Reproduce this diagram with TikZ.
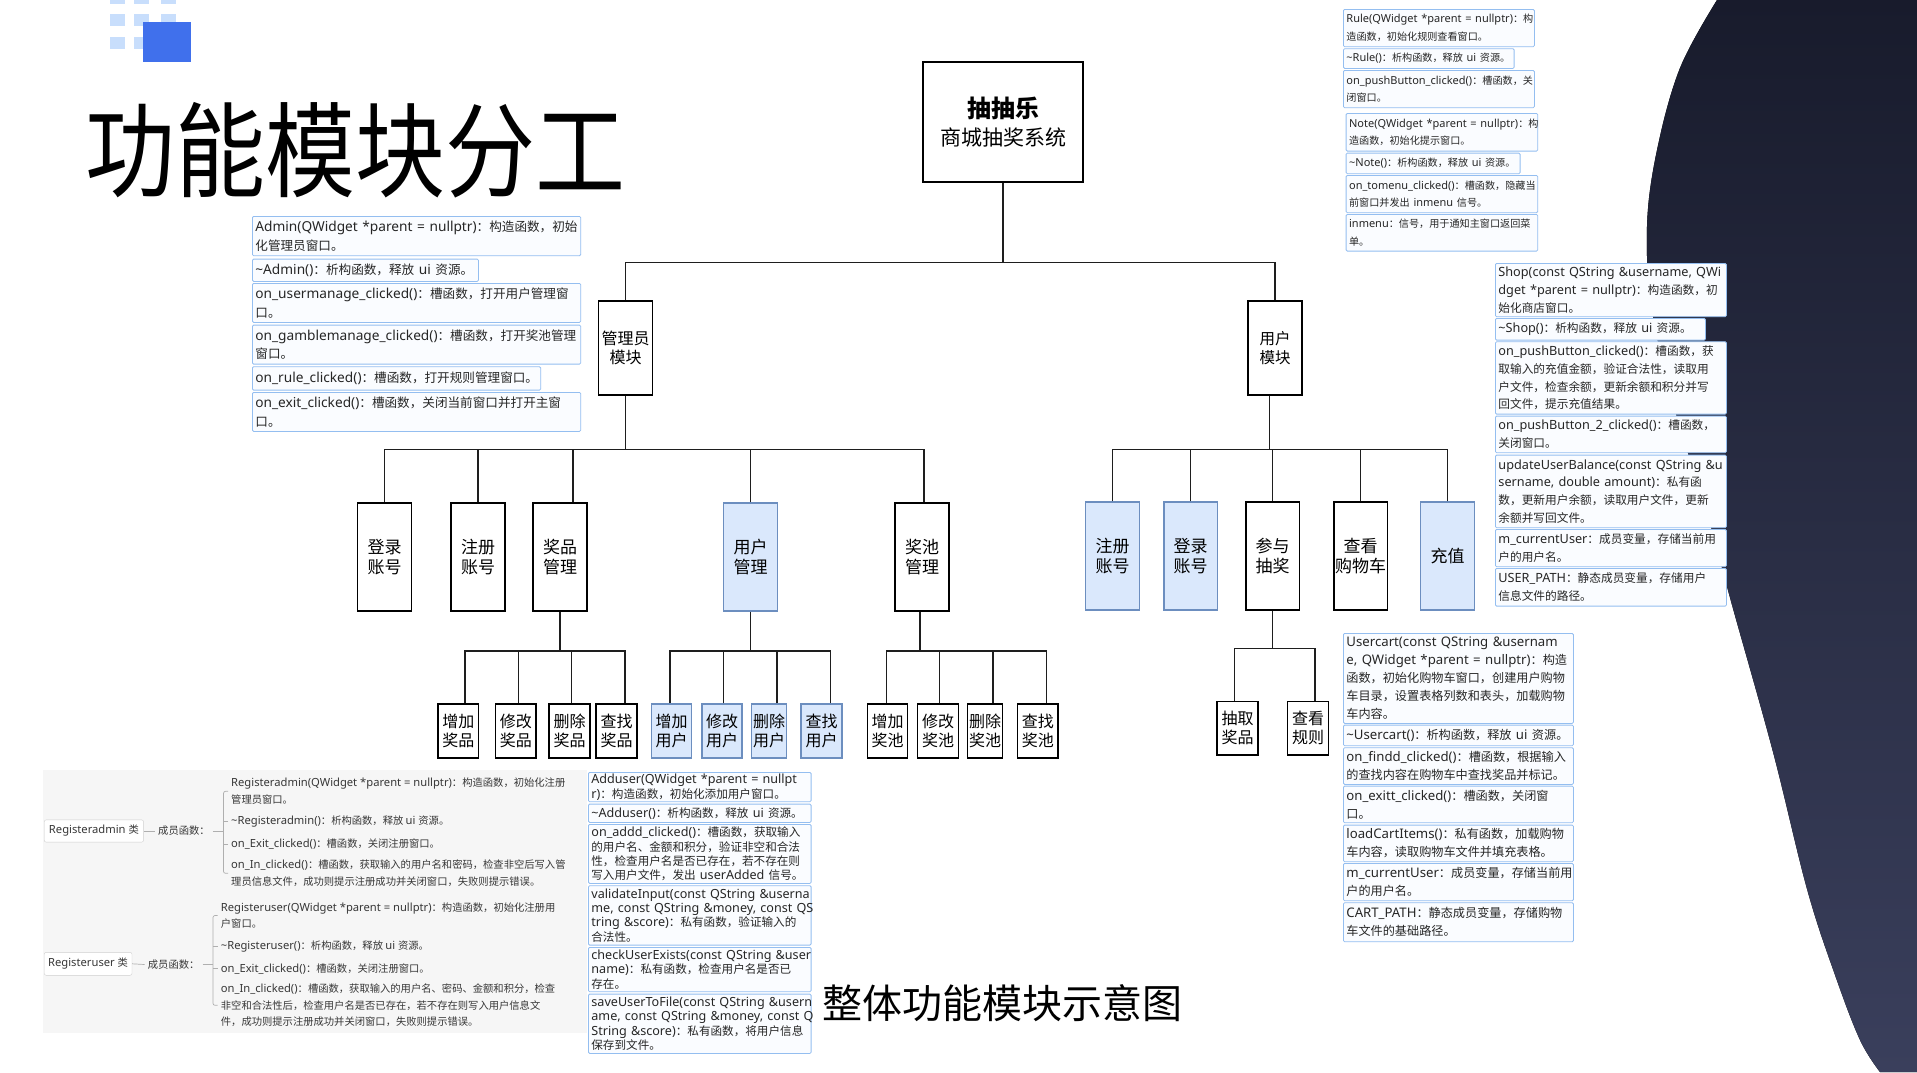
\documentclass[tikz,border=0pt]{standalone}
\usepackage{fontspec}
\setmainfont{Noto Sans}
\newfontfamily\latinfont{Noto Sans}
\newfontfamily\cjkfont[Scale=0.92]{Noto Sans CJK SC}
\newfontfamily\cjkplain{Noto Sans CJK SC}

% automatic switch between the Latin and the CJK font inside the note boxes
\newXeTeXintercharclass\cjkclass
\newcount\cjkcode
\newcommand\setcjkrange[2]{%
  \cjkcode=#1\relax
  \loop
    \XeTeXcharclass\cjkcode=\cjkclass
    \advance\cjkcode by 1\relax
  \ifnum\cjkcode<#2\relax\repeat}
\setcjkrange{"3000}{"3040}
\setcjkrange{"4E00}{"A000}
\setcjkrange{"FF00}{"FFF0}
\XeTeXinterchartoks 0 \cjkclass = {\cjkfont}
\XeTeXinterchartoks 4095 \cjkclass = {\cjkfont}
\XeTeXinterchartoks \cjkclass 0 = {\latinfont}
\XeTeXinterchartoks 4095 0 = {\latinfont}

\newcommand\fnfont[2]{\XeTeXinterchartokenstate=1\relax\latinfont\fontsize{#1}{#2}\selectfont}
\newcommand\oneline[1]{\mbox{#1}}

\definecolor{fnedge}{RGB}{148,190,240}
\definecolor{fnfill}{RGB}{250,252,255}
\definecolor{fntext}{RGB}{38,38,38}
\definecolor{wirecol}{RGB}{30,30,30}
\definecolor{blueedge}{RGB}{108,142,191}
\definecolor{bluefill}{RGB}{218,232,252}
\definecolor{regbg}{RGB}{246,246,246}
\definecolor{regline}{RGB}{175,175,175}
\definecolor{regtxt}{RGB}{55,55,55}
\definecolor{logoblue}{RGB}{64,112,236}
\definecolor{logolight}{RGB}{200,222,252}
\definecolor{navytop}{RGB}{24,27,44}
\definecolor{navybot}{RGB}{58,63,92}

\tikzset{
  infobox/.style={draw=fnedge, fill=fnfill, line width=0.8pt, rounded corners=1.2pt,
    anchor=north west, align=left, inner xsep=3pt, inner ysep=0.5pt, text=fntext},
  rulebox/.style={infobox, font=\fnfont{11}{17.7}},
  shopbox/.style={infobox, font=\fnfont{12.7}{17.8}},
  adminbox/.style={infobox, font=\fnfont{13.7}{18.7}},
  cartbox/.style={infobox, font=\fnfont{13.2}{18}},
  addbox/.style={infobox, font=\fnfont{12.6}{14.3}},
  regitem/.style={anchor=west, align=left, inner xsep=3pt, inner ysep=1pt, text=regtxt,
    font=\fnfont{11.2}{16.7}},
  regclass/.style={draw=regline!60, fill=white, rounded corners=2pt, inner sep=0pt,
    text=regtxt, font=\fnfont{11.2}{14}},
  reglabel/.style={anchor=west, inner xsep=3pt, inner ysep=1pt, text=regtxt, font=\fnfont{11.2}{14}},
  regwire/.style={draw=regline, line width=0.7pt},
  tbox/.style={draw=black, line width=1.3pt, fill=white, inner sep=0pt, align=center,
    text=black, font=\cjkplain\fontsize{17}{19.3}\selectfont},
  blueish/.style={draw=blueedge, fill=bluefill},
  mid/.style={tbox, minimum width=54pt, minimum height=108pt},
  leaf/.style={tbox, minimum height=54pt, font=\cjkplain\fontsize{16}{19}\selectfont},
  wire/.style={draw=wirecol, line width=1.2pt},
}

\begin{document}
\begin{tikzpicture}[x=1pt,y=-1pt]
\useasboundingbox (0,0) rectangle (1917,1072);
\fill[white] (0,0) rectangle (1917,1072);

% dark backdrop on the right edge
\fill[top color=navytop, bottom color=navybot]
  plot[smooth, tension=0.6] coordinates {(1717,0) (1680,68) (1657,150) (1647,226) (1652,310)
    (1675,410) (1707,513) (1732,605) (1773,752) (1807,889) (1835,975) (1860,1040) (1880,1072)}
  -- (1917,1072) -- (1917,0) -- cycle;

% logo squares
\foreach \cx in {110,134,161}
  \foreach \cy in {-8,14,37}
    \fill[logolight] (\cx,\cy) rectangle ++(14.5,12);
\fill[logoblue] (143,22) rectangle (191,62);

% headings
\node[font=\cjkplain\fontsize{90}{100}\selectfont, inner sep=0pt] (title) at (355,150)
  {\scalebox{1}[1.15]{功能模块分工}};
\node[font=\cjkplain\fontsize{40}{44}\selectfont, inner sep=0pt] (caption) at (1002,1003) {整体功能模块示意图};

% ---------- module tree ----------
\node[tbox, minimum width=160pt, minimum height=120pt, font=\cjkplain\fontsize{21}{28}\selectfont]
  (root) at (1003,122) {{\bfseries\fontsize{24}{28}\selectfont 抽抽乐}\\商城抽奖系统};
\node[tbox, minimum width=54pt, minimum height=94pt, font=\cjkplain\fontsize{16}{19}\selectfont]
  (adm) at (625.5,348) {管理员\\模块};
\node[tbox, minimum width=54pt, minimum height=94pt, font=\cjkplain\fontsize{15.5}{19}\selectfont]
  (usr) at (1275,348) {用户\\模块};

\node[mid] (a1) at (384.5,557) {登录\\账号};
\node[mid] (a2) at (478,557) {注册\\账号};
\node[mid] (a3) at (560,557) {奖品\\管理};
\node[mid, blueish] (a4) at (750.5,557) {用户\\管理};
\node[mid] (a5) at (922,557) {奖池\\管理};

\node[leaf, minimum width=40.5pt] (p1) at (458.3,731) {增加\\奖品};
\node[leaf, minimum width=40.5pt] (p2) at (515.8,731) {修改\\奖品};
\node[leaf, minimum width=41pt] (p3) at (569.5,731) {删除\\奖品};
\node[leaf, minimum width=41pt] (p4) at (616.5,731) {查找\\奖品};
\node[leaf, blueish, minimum width=40pt] (u1) at (671.5,731) {增加\\用户};
\node[leaf, blueish, minimum width=40pt] (u2) at (722,731) {修改\\用户};
\node[leaf, blueish, minimum width=35pt] (u3) at (769,731) {删除\\用户};
\node[leaf, blueish, minimum width=41pt] (u4) at (821.5,731) {查找\\用户};
\node[leaf, minimum width=40pt] (g1) at (887.5,731) {增加\\奖池};
\node[leaf, minimum width=40.5pt] (g2) at (938,731) {修改\\奖池};
\node[leaf, minimum width=35pt] (g3) at (985,731) {删除\\奖池};
\node[leaf, minimum width=40.5pt] (g4) at (1037.8,731) {查找\\奖池};

\node[mid, blueish, minimum width=53.6pt] (b1) at (1112.5,556) {注册\\账号};
\node[mid, blueish, minimum width=53.6pt] (b2) at (1190.7,556) {登录\\账号};
\node[mid, minimum width=53.6pt] (b3) at (1272.7,556) {参与\\抽奖};
\node[mid, minimum width=53.6pt] (b4) at (1360.7,556) {查看\\购物车};
\node[mid, blueish, minimum width=53.6pt] (b5) at (1447.5,556) {充值};

\node[leaf, minimum width=41pt, minimum height=53.3pt] (l1) at (1237.5,728.4) {抽取\\奖品};
\node[leaf, minimum width=41pt, minimum height=53.3pt] (l2) at (1308.2,728.4) {查看\\规则};

% connectors
\coordinate (rootbus) at (1003,262.3);
\draw[wire] (root.south) -- (rootbus);
\draw[wire] (adm.north) |- (rootbus);
\draw[wire] (usr.north) |- (rootbus);

\coordinate (admbus) at (625.5,449.3);
\draw[wire] (adm.south) -- (admbus);
\foreach \n/\dx in {a1/0,a2/0,a3/13,a4/0,a5/2}
  \draw[wire] ([xshift=\dx pt]\n.north) |- (admbus);

\coordinate (pbus) at (560,651);
\draw[wire] (a3.south) -- (pbus);
\foreach \n/\dx in {p1/6.7,p2/2.8,p3/2.2,p4/8.5}
  \draw[wire] ([xshift=\dx pt]\n.north) |- (pbus);

\coordinate (ubus) at (750.5,651);
\draw[wire] (a4.south) -- (ubus);
\foreach \n/\dx in {u1/-1.5,u2/1.5,u3/8,u4/9}
  \draw[wire] ([xshift=\dx pt]\n.north) |- (ubus);

\coordinate (gbus) at (920,651);
\draw[wire] ([xshift=-2pt]a5.south) -- (gbus);
\foreach \n/\dx in {g1/-1,g2/1.5,g3/8,g4/8.7}
  \draw[wire] ([xshift=\dx pt]\n.north) |- (gbus);

\coordinate (usrbus) at (1269.3,449.3);
\draw[wire] ([xshift=-5.7pt]usr.south) -- (usrbus);
\foreach \n in {b1,b2,b3,b4,b5}
  \draw[wire] (\n.north) |- (usrbus);

\coordinate (lbus) at (1272.7,648.3);
\draw[wire] (b3.south) -- (lbus);
\draw[wire] ([xshift=-3.2pt]l1.north) |- (lbus);
\draw[wire] ([xshift=6.8pt]l2.north) |- (lbus);

% ---------- Admin notes ----------
\node[adminbox, text width=322.3pt, minimum height=39.3pt] (ad1) at (252,216)
  {\oneline{Admin(QWidget *parent = nullptr)：构造函数，初始}\\\oneline{化管理员窗口。}};
\node[adminbox, text width=220pt, minimum height=22.3pt] (ad2) at (252,258.7)
  {\oneline{\textasciitilde Admin()：析构函数，释放 ui 资源。}};
\node[adminbox, text width=322.3pt, minimum height=39pt] (ad3) at (252,283)
  {\oneline{on\_usermanage\_clicked()：槽函数，打开用户管理窗}\\\oneline{口。}};
\node[adminbox, text width=322.3pt, minimum height=39pt] (ad4) at (252,324.7)
  {\oneline{on\_gamblemanage\_clicked()：槽函数，打开奖池管理}\\\oneline{窗口。}};
\node[adminbox, text width=282.3pt, minimum height=23.4pt] (ad5) at (252,366.3)
  {\oneline{on\_rule\_clicked()：槽函数，打开规则管理窗口。}};
\node[adminbox, text width=322.3pt, minimum height=39pt] (ad6) at (252,392)
  {\oneline{on\_exit\_clicked()：槽函数，关闭当前窗口并打开主窗}\\\oneline{口。}};

% ---------- Rule / Note notes ----------
\node[rulebox, text width=185pt, minimum height=37.3pt] (r1) at (1343,9)
  {\oneline{Rule(QWidget *parent = nullptr)：构}\\\oneline{造函数，初始化规则查看窗口。}};
\node[rulebox, text width=164.7pt, minimum height=19.7pt] (r2) at (1343,48.3)
  {\oneline{\textasciitilde Rule()：析构函数，释放 ui 资源。}};
\node[rulebox, text width=185pt, minimum height=37.3pt] (r3) at (1343,70)
  {\oneline{on\_pushButton\_clicked()：槽函数，关}\\\oneline{闭窗口。}};
\node[rulebox, text width=185.6pt, minimum height=37.7pt] (r4) at (1345.7,113)
  {\oneline{Note(QWidget *parent = nullptr)：构}\\\oneline{造函数，初始化提示窗口。}};
\node[rulebox, text width=168pt, minimum height=20.6pt] (r5) at (1345.7,152.7)
  {\oneline{\textasciitilde Note()：析构函数，释放 ui 资源。}};
\node[rulebox, text width=185.6pt, minimum height=37.3pt] (r6) at (1345.7,175)
  {\oneline{on\_tomenu\_clicked()：槽函数，隐藏当}\\\oneline{前窗口并发出 inmenu 信号。}};
\node[rulebox, text width=185.6pt, minimum height=36.7pt] (r7) at (1345.7,214)
  {\oneline{inmenu：信号，用于通知主窗口返回菜}\\\oneline{单。}};

% ---------- Shop notes ----------
\node[shopbox, text width=225pt, minimum height=53.3pt] (s1) at (1495,263)
  {\oneline{Shop(const QString \&username, QWi}\\\oneline{dget *parent = nullptr)：构造函数，初}\\\oneline{始化商店窗口。}};
\node[shopbox, text width=204pt, minimum height=21.7pt] (s2) at (1495,318)
  {\oneline{\textasciitilde Shop()：析构函数，释放 ui 资源。}};
\node[shopbox, text width=225pt, minimum height=72.4pt] (s3) at (1495,341.3)
  {\oneline{on\_pushButton\_clicked()：槽函数，获}\\\oneline{取输入的充值金额，验证合法性，读取用}\\\oneline{户文件，检查余额，更新余额和积分并写}\\\oneline{回文件，提示充值结果。}};
\node[shopbox, text width=225pt, minimum height=36.6pt] (s4) at (1495,415.7)
  {\oneline{on\_pushButton\_2\_clicked()：槽函数，}\\\oneline{关闭窗口。}};
\node[shopbox, text width=225pt, minimum height=72.6pt] (s5) at (1495,454.7)
  {\oneline{updateUserBalance(const QString \&u}\\\oneline{sername, double amount)：私有函}\\\oneline{数，更新用户余额，读取用户文件，更新}\\\oneline{余额并写回文件。}};
\node[shopbox, text width=225pt, minimum height=37.3pt] (s6) at (1495,529)
  {\oneline{m\_currentUser：成员变量，存储当前用}\\\oneline{户的用户名。}};
\node[shopbox, text width=225pt, minimum height=37.7pt] (s7) at (1495,568)
  {\oneline{USER\_PATH：静态成员变量，存储用户}\\\oneline{信息文件的路径。}};

% ---------- Usercart notes ----------
\node[cartbox, text width=224pt, minimum height=90pt] (c1) at (1343,633)
  {\oneline{Usercart(const QString \&usernam}\\\oneline{e, QWidget *parent = nullptr)：构造}\\\oneline{函数，初始化购物车窗口，创建用户购物}\\\oneline{车目录，设置表格列数和表头，加载购物}\\\oneline{车内容。}};
\node[cartbox, text width=224pt, minimum height=20.6pt] (c2) at (1343,724.7)
  {\oneline{\textasciitilde Usercart()：析构函数，释放 ui 资源。}};
\node[cartbox, text width=224pt, minimum height=36.7pt] (c3) at (1343,747.3)
  {\oneline{on\_findd\_clicked()：槽函数，根据输入}\\\oneline{的查找内容在购物车中查找奖品并标记。}};
\node[cartbox, text width=224pt, minimum height=36.6pt] (c4) at (1343,785.7)
  {\oneline{on\_exitt\_clicked()：槽函数，关闭窗}\\\oneline{口。}};
\node[cartbox, text width=224pt, minimum height=36.6pt] (c5) at (1343,824.7)
  {\oneline{loadCartItems()：私有函数，加载购物}\\\oneline{车内容，读取购物车文件并填充表格。}};
\node[cartbox, text width=224pt, minimum height=37.3pt] (c6) at (1343,863)
  {\oneline{m\_currentUser：成员变量，存储当前用}\\\oneline{户的用户名。}};
\node[cartbox, text width=224pt, minimum height=39pt] (c7) at (1343,902.3)
  {\oneline{CART\_PATH：静态成员变量，存储购物}\\\oneline{车文件的基础路径。}};

% ---------- Adduser notes ----------
\node[addbox, text width=216.7pt, minimum height=29.3pt] (d1) at (588,772)
  {\oneline{Adduser(QWidget *parent = nullpt}\\\oneline{r)：构造函数，初始化添加用户窗口。}};
\node[addbox, text width=216.7pt, minimum height=18.3pt] (d2) at (588,803.7)
  {\oneline{\textasciitilde Adduser()：析构函数，释放 ui 资源。}};
\node[addbox, text width=216.7pt, minimum height=59pt] (d3) at (588,824)
  {\oneline{on\_addd\_clicked()：槽函数，获取输入}\\\oneline{的用户名、金额和积分，验证非空和合法}\\\oneline{性，检查用户名是否已存在，若不存在则}\\\oneline{写入用户文件，发出 userAdded 信号。}};
\node[addbox, text width=216.7pt, minimum height=59.4pt] (d4) at (588,885.3)
  {\oneline{validateInput(const QString \&userna}\\\oneline{me, const QString \&money, const QS}\\\oneline{tring \&score)：私有函数，验证输入的}\\\oneline{合法性。}};
\node[addbox, text width=216.7pt, minimum height=44.3pt] (d5) at (588,947)
  {\oneline{checkUserExists(const QString \&user}\\\oneline{name)：私有函数，检查用户名是否已}\\\oneline{存在。}};
\node[addbox, text width=216.7pt, minimum height=59.3pt] (d6) at (588,993.7)
  {\oneline{saveUserToFile(const QString \&usern}\\\oneline{ame, const QString \&money, const Q}\\\oneline{String \&score)：私有函数，将用户信息}\\\oneline{保存到文件。}};

% ---------- Registeradmin / Registeruser outline ----------
\fill[regbg] (43,770) rectangle (587,1033);

\node[regclass, minimum width=99.3pt, minimum height=22.3pt] (rac) at (93.9,831) {Registeradmin 类};
\node[reglabel] (raf) at (155,831) {成员函数：};
\coordinate (rab) at (223.5,831);
\node[regitem] (ra1) at (228,791.3)
  {Registeradmin(QWidget *parent = nullptr)：构造函数，初始化注册\\管理员窗口。};
\node[regitem] (ra2) at (228,821.3) {\textasciitilde Registeradmin()：析构函数，释放 ui 资源。};
\node[regitem] (ra3) at (228,844) {on\_Exit\_clicked()：槽函数，关闭注册窗口。};
\node[regitem] (ra4) at (228,873.3)
  {on\_In\_clicked()：槽函数，获取输入的用户名和密码，检查非空后写入管\\理员信息文件，成功则提示注册成功并关闭窗口，失败则提示错误。};
\draw[regwire] (rac.east) -- (raf.west);
\draw[regwire] (raf.east) -- (rab);
\draw[regwire, rounded corners=2pt] (ra1.west) -| (rab) |- (ra4.west);
\draw[regwire] (ra2.west) -- (ra2.west -| rab);
\draw[regwire] (ra3.west) -- (ra3.west -| rab);

\node[regclass, minimum width=87.8pt, minimum height=23pt] (ruc) at (88.1,963.8) {Registeruser 类};
\node[reglabel] (ruf) at (144.7,964.5) {成员函数：};
\coordinate (rub) at (213,964.5);
\node[regitem] (ru1) at (217.7,915.5)
  {Registeruser(QWidget *parent = nullptr)：构造函数，初始化注册用\\户窗口。};
\node[regitem] (ru2) at (217.7,946.3) {\textasciitilde Registeruser()：析构函数，释放 ui 资源。};
\node[regitem] (ru3) at (217.7,968.7) {on\_Exit\_clicked()：槽函数，关闭注册窗口。};
\node[regitem] (ru4) at (217.7,1005.3)
  {on\_In\_clicked()：槽函数，获取输入的用户名、密码、金额和积分，检查\\非空和合法性后，检查用户名是否已存在，若不存在则写入用户信息文\\件，成功则提示注册成功并关闭窗口，失败则提示错误。};
\draw[regwire] (ruc.east) -- (ruf.west);
\draw[regwire] (ruf.east) -- (rub);
\draw[regwire, rounded corners=2pt] (ru1.west) -| (rub) |- (ru4.west);
\draw[regwire] (ru2.west) -- (ru2.west -| rub);
\draw[regwire] (ru3.west) -- (ru3.west -| rub);
\end{tikzpicture}
\end{document}
